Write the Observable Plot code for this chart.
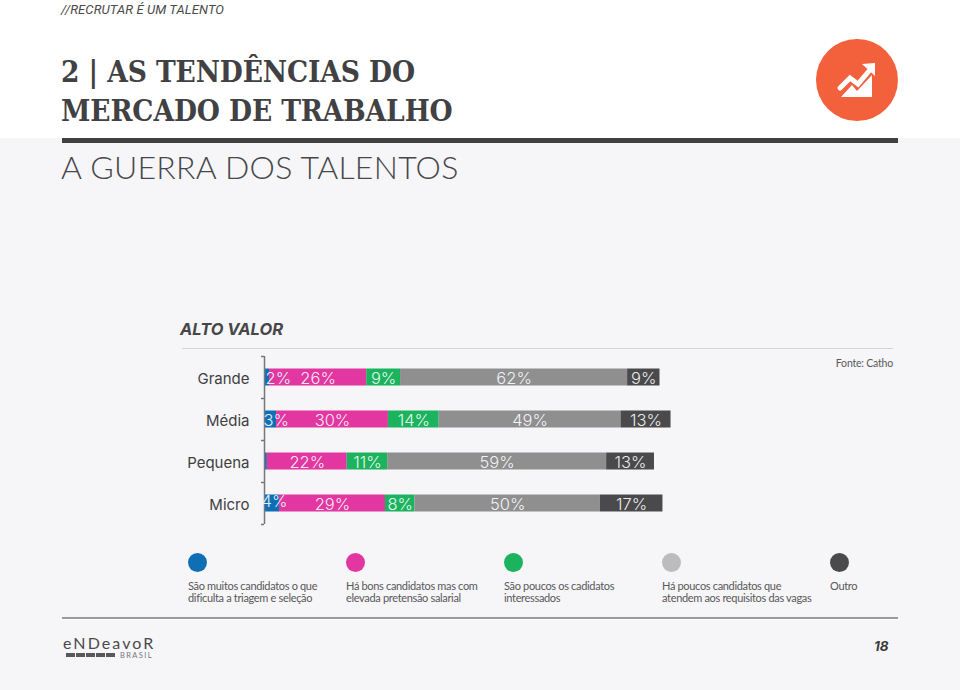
<!DOCTYPE html>
<html lang="pt"><head><meta charset="utf-8">
<script src="https://cdn.jsdelivr.net/npm/d3@7"></script>
<script src="https://cdn.jsdelivr.net/npm/@observablehq/plot@0.6"></script>
<style>
html,body{margin:0;padding:0;width:960px;height:690px;overflow:hidden;background:#f6f5f8}
#top{position:absolute;left:0;top:0;width:960px;height:138px;background:#fff}
.t{position:absolute;white-space:nowrap;margin:0}
#kicker{left:61px;top:1px;font:italic 400 13px/17px Roboto,sans-serif;letter-spacing:.1px;color:#4a4a4c}
#title{left:61px;top:53px;font:700 29.5px/38.5px "DejaVu Serif Condensed","DejaVu Serif",serif;letter-spacing:-.1px;color:#414143}
#rule{position:absolute;left:62px;top:138px;width:836px;height:5px;background:#414143}
#sub{left:61px;top:147px;font:300 32px/40px Lato,sans-serif;color:#47474a;letter-spacing:.28px}
#group{left:180px;top:319px;font:italic 700 16.5px/20px Inter,sans-serif;color:#47474a}
#grule{position:absolute;left:182px;top:348px;width:711px;height:1px;background:#d5d3d8}
#source{right:67px;top:356px;font:400 10.5px/14px Lato,sans-serif;letter-spacing:-.2px;color:#5a5a5c}
#chart{position:absolute;left:0;top:340px}
.lg{position:absolute;top:553px;font:400 11px/12px Lato,sans-serif;letter-spacing:-.33px;color:#58585a}
.lg i{display:block;width:19px;height:19px;border-radius:50%;margin-bottom:8px}
#frule{position:absolute;left:62px;top:617px;width:836px;height:2px;background:#9a9a9e;border-bottom:1px solid #fff}
#flogo{left:63px;top:636px;font:400 16px/13px Lato,sans-serif;letter-spacing:2.1px;color:#4a4a4c}
#fbar{position:absolute;left:66px;top:653px;width:50px;height:4px;background:#59595b;-webkit-mask:repeating-linear-gradient(90deg,#000 0 9px,transparent 9px 10px)}
#fbr{left:120px;top:653px;font:400 7.5px/6px Lato,sans-serif;letter-spacing:1.4px;color:#77777a}
#page{left:874px;top:638px;font:italic 700 13.5px/16px Inter,sans-serif;color:#3c3c3e}
</style></head><body>
<div id="top"></div>
<p class="t" id="kicker">//RECRUTAR É UM TALENTO</p>
<div class="t" id="title">2 | AS TENDÊNCIAS DO<br>MERCADO DE TRABALHO</div>
<svg style="position:absolute;left:816px;top:39px" width="82" height="82" viewBox="816 39 82 82">
<circle cx="857" cy="80" r="41" fill="#f2603c"/>
<polyline points="840,88 850,78 858,84 869,71" fill="none" stroke="#fff" stroke-width="5" stroke-linecap="round"/>
<polygon points="862,64 875,63 875,76" fill="#fff"/>
<polygon points="841,97 852,85 857,91 872,75 872,97" fill="#fff"/>
</svg>
<div id="rule"></div>
<div class="t" id="sub">A GUERRA DOS TALENTOS</div>
<div class="t" id="group">ALTO VALOR</div>
<div id="grule"></div>
<div class="t" id="source">Fonte: Catho</div>
<div id="chart"></div>
<div id="legend"></div>
<div id="frule"></div>
<div class="t" id="flogo">eNDeavoR</div>
<div id="fbar"></div>
<div class="t" id="fbr">BRASIL</div>
<div class="t" id="page">18</div>
<script>
const categories = ["Grande","Média","Pequena","Micro"];
const seriesNames = ["São muitos candidatos o que dificulta a triagem e seleção","Há bons candidatos mas com elevada pretensão salarial","São poucos os cadidatos interessados","Há poucos candidatos que atendem aos requisitos das vagas","Outro"];
const barColors = ["#0f6fb5","#e236a0","#1cb35f","#8f8f8f","#4a4a4c"];
const legendColors = ["#0f6fb5","#e236a0","#1cb35f","#bcbcbc","#4a4a4c"];
// bar lengths as measured on the picture, and the printed labels
const muitos = [1.1,3.0,0.5,3.8];
const bons = [26.4,30.4,21.7,28.8];
const poucos = [9.2,13.8,11,8];
const requisitos = [61.7,49.4,59.5,50.4];
const outro = [8.8,13.6,13,17];
const labelsMuitos = ["2%","3%","","4%"];
const labelsBons = ["26%","30%","22%","29%"];
const labelsPoucos = ["9%","14%","11%","8%"];
const labelsRequisitos = ["62%","49%","59%","50%"];
const labelsOutro = ["9%","13%","13%","17%"];
const legendLines = [["São muitos candidatos o que","dificulta a triagem e seleção"],["Há bons candidatos mas com","elevada pretensão salarial"],["São poucos os cadidatos","interessados"],["Há poucos candidatos que","atendem aos requisitos das vagas"],["Outro"]];
const legendX = [188,346,504,662,830];

const columns = [muitos,bons,poucos,requisitos,outro];
const labels = [labelsMuitos,labelsBons,labelsPoucos,labelsRequisitos,labelsOutro];
const rows = [];
categories.forEach((c,i)=>{
  let x=0;
  columns.forEach((col,s)=>{
    rows.push({category:c,series:seriesNames[s],s,x1:x,x2:x+col[i],label:labels[s][i]});
    x+=col[i];
  });
});
const first = rows.filter(d=>d.s===0);
const rest = rows.filter(d=>d.s>0);
const font = "Inter, sans-serif";
const axisColor = "#77777a";
const valueStyle = {y:"category",text:"label",fontSize:16.5,fontWeight:300,fontFamily:font};
const blueStyle = {...valueStyle,x:0,textAnchor:"start",fill:"#dff1fb"};
const chart = Plot.plot({
  width:960,height:200,
  marginLeft:265,marginRight:0,marginTop:16,marginBottom:16,
  style:{background:"transparent",overflow:"visible"},
  x:{domain:[0,695/3.68],range:[265,960],axis:null},
  y:{domain:categories,range:[16,184],padding:0,axis:null},
  color:{domain:seriesNames,range:barColors},
  marks:[
    Plot.barX(rows,{y:"category",x1:"x1",x2:"x2",fill:"series",insetTop:12.5,insetBottom:12.5}),
    Plot.ruleX([-0.27],{y1:()=>categories[0],y2:()=>categories[3],stroke:axisColor,strokeWidth:1.5}),
    Plot.ruleY(categories,{y:d=>d,x1:()=>-1.1,x2:()=>-0.27,dy:-21,stroke:axisColor,strokeWidth:1.5}),
    Plot.ruleY([categories[3]],{y:d=>d,x1:()=>-1.1,x2:()=>-0.27,dy:21,stroke:axisColor,strokeWidth:1.5}),
    Plot.text(categories,{y:d=>d,x:()=>0,text:d=>d,textAnchor:"end",dx:-16,dy:1.5,fontSize:15,fontFamily:font,fill:"#3f3f41"}),
    Plot.text(rest,{...valueStyle,x:d=>(d.x1+d.x2)/2,dy:1,fill:"#fff",fillOpacity:.9}),
    Plot.text(first.filter(d=>d.category==="Grande"),{...blueStyle,dy:1}),
    Plot.text(first.filter(d=>d.category==="Média"),{...blueStyle,dx:-2,dy:1}),
    Plot.text(first.filter(d=>d.category==="Micro"),{...blueStyle,dx:-4,dy:-2})
  ]
});
document.getElementById("chart").appendChild(chart);
const lg=document.getElementById("legend");
legendLines.forEach((ls,i)=>{
  const d=document.createElement("div");d.className="lg";d.style.left=legendX[i]+"px";
  const dot=document.createElement("i");dot.style.background=legendColors[i];d.appendChild(dot);
  ls.forEach(l=>{const s=document.createElement("div");s.textContent=l;s.style.whiteSpace="nowrap";d.appendChild(s);});
  lg.appendChild(d);
});
</script>
</body></html>
